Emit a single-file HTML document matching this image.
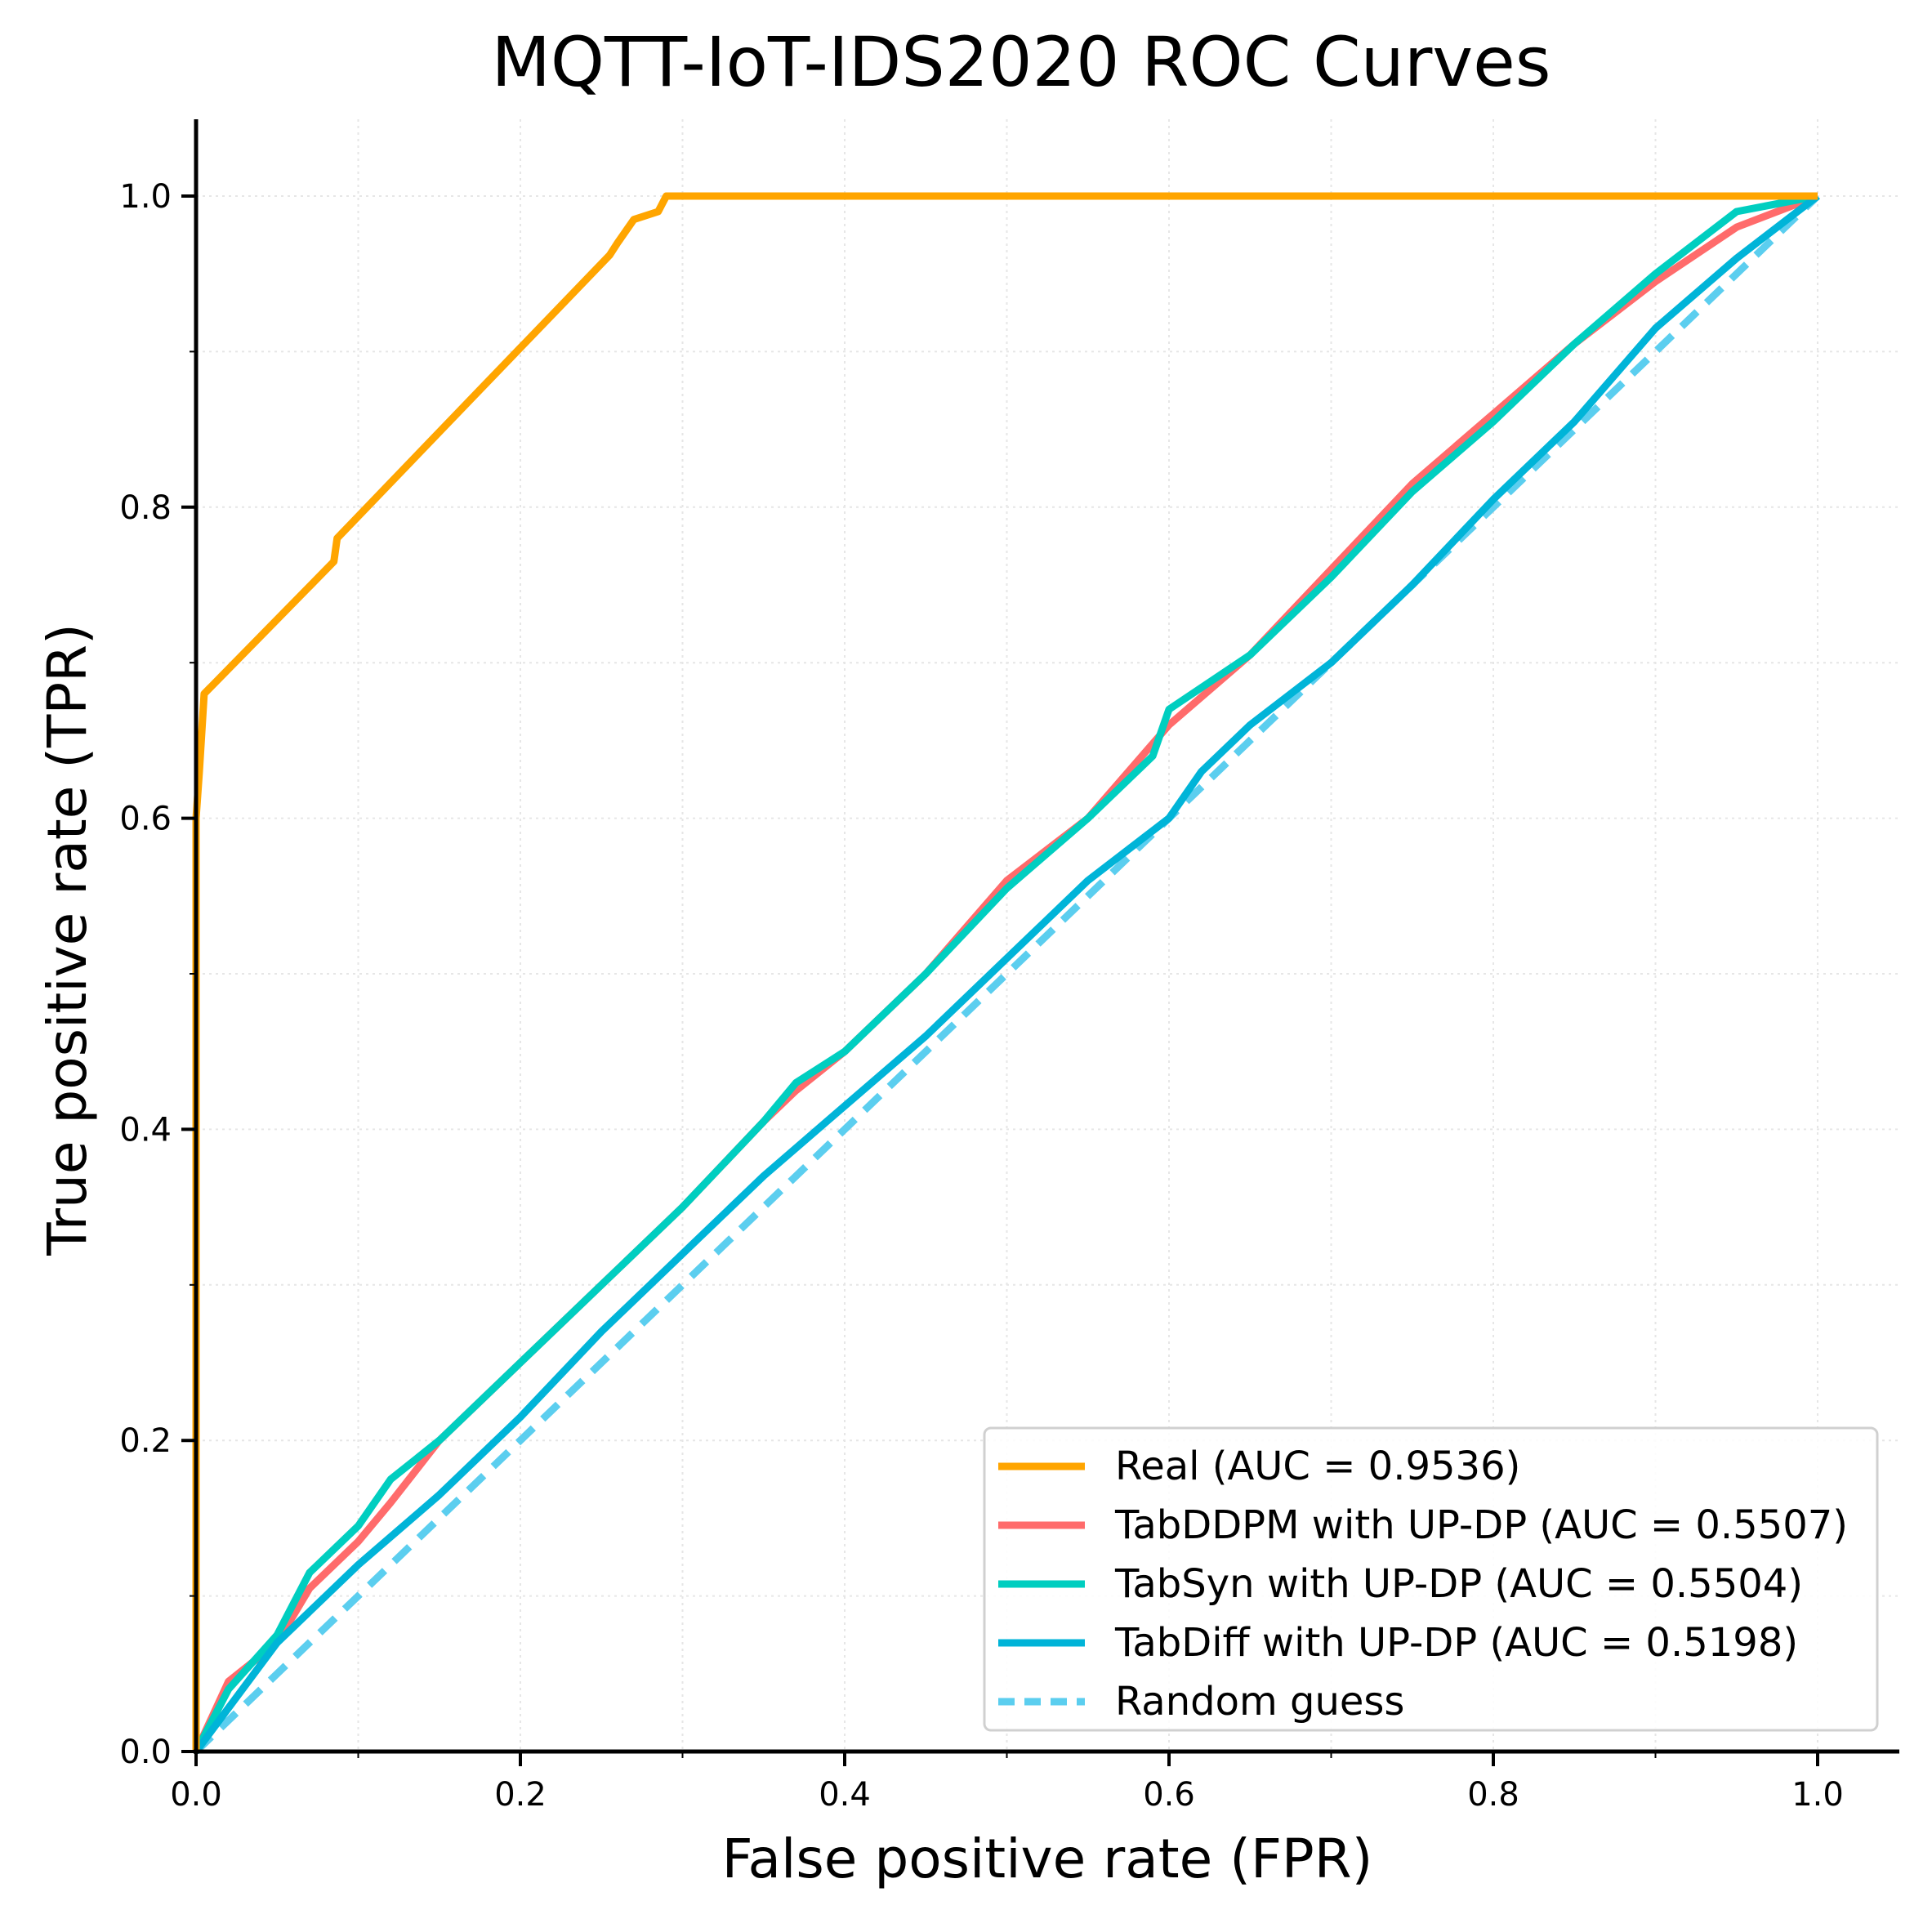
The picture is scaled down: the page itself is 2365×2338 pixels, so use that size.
<!DOCTYPE html>
<html><head><meta charset="utf-8"><style>
body{margin:0;background:#fff}
svg text{font-family:"DejaVu Sans","Liberation Sans",sans-serif;fill:#000}
</style></head><body>
<svg id="chart" width="2365" height="2333" xmlns="http://www.w3.org/2000/svg">
<text x="1250" y="105" font-size="84" text-anchor="middle">MQTT-IoT-IDS2020 ROC Curves</text>
<g id="grid"></g>
<g id="marks"></g>
<g id="axes"></g>
<text x="1282" y="2298" font-size="66" text-anchor="middle">False positive rate (FPR)</text>
<text transform="translate(105,1150) rotate(-90)" font-size="66" text-anchor="middle">True positive rate (TPR)</text>
<g id="legend"></g>
</svg>
<script>
const xTicks=[0,0.2,0.4,0.6,0.8,1.0];
const yTicks=[0,0.2,0.4,0.6,0.8,1.0];
const tickLabels=["0.0","0.2","0.4","0.6","0.8","1.0"];
const seriesNames=["Real (AUC = 0.9536)","TabDDPM with UP-DP (AUC = 0.5507)","TabSyn with UP-DP (AUC = 0.5504)","TabDiff with UP-DP (AUC = 0.5198)","Random guess"];
const realFpr=[0,0,0.002,0.005,0.085,0.087,0.17,0.255,0.26,0.27,0.285,0.29,0.31,1];
const realTpr=[0,0.6,0.63,0.68,0.765,0.78,0.87,0.962,0.97,0.985,0.99,1,1,1];
const ddpmFpr=[0,0.02,0.05,0.07,0.1,0.12,0.15,0.2,0.25,0.3,0.35,0.37,0.4,0.45,0.5,0.55,0.6,0.65,0.7,0.75,0.8,0.85,0.9,0.95,1];
const ddpmTpr=[0,0.045,0.07,0.105,0.135,0.16,0.2,0.25,0.3,0.35,0.405,0.425,0.45,0.5,0.56,0.6,0.66,0.705,0.76,0.815,0.86,0.905,0.945,0.98,1];
const synFpr=[0,0.02,0.05,0.07,0.1,0.12,0.15,0.2,0.25,0.3,0.35,0.37,0.4,0.45,0.5,0.55,0.59,0.6,0.65,0.7,0.75,0.8,0.85,0.9,0.95,1];
const synTpr=[0,0.04,0.075,0.115,0.145,0.175,0.2,0.25,0.3,0.35,0.405,0.43,0.45,0.5,0.555,0.6,0.64,0.67,0.705,0.755,0.81,0.855,0.905,0.95,0.99,1];
const diffFpr=[0,0.05,0.1,0.15,0.2,0.25,0.3,0.35,0.4,0.45,0.5,0.55,0.6,0.62,0.65,0.7,0.75,0.8,0.85,0.9,0.95,1];
const diffTpr=[0,0.07,0.12,0.165,0.215,0.27,0.32,0.37,0.415,0.46,0.51,0.56,0.6,0.63,0.66,0.7,0.75,0.805,0.855,0.915,0.96,1];
const randFpr=[0,1];
const randTpr=[0,1];
const colors=["#FFA500","#FF6B6B","#00CEC0","#00B4D8","#5BCEEF"];

const NS="http://www.w3.org/2000/svg";
const X0=240,X1=2225,Y0=2144,Y1=240;
const sx=v=>X0+v*(X1-X0), sy=v=>Y0-v*(Y0-Y1);
function mk(t,a,p){const e=document.createElementNS(NS,t);for(const k in a)e.setAttribute(k,a[k]);p.appendChild(e);return e;}
const grid=document.getElementById('grid'),axes=document.getElementById('axes'),marks=document.getElementById('marks'),leg=document.getElementById('legend');
for(let i=1;i<=10;i++){const v=i/10;
 const gv=mk('line',{x1:sx(v),x2:sx(v),y1:146,y2:Y0,stroke:'#e6e6e6','stroke-width':2,'stroke-dasharray':'3,5'},grid);
 
 const gh=mk('line',{x1:X0,x2:2325,y1:sy(v),y2:sy(v),stroke:'#e6e6e6','stroke-width':2,'stroke-dasharray':'3,5'},grid);
 
 if(i%2===1){mk('line',{x1:sx(v),x2:sx(v),y1:Y0,y2:Y0+8,stroke:'#000','stroke-width':2},axes);
  mk('line',{x1:X0,x2:X0-8,y1:sy(v),y2:sy(v),stroke:'#000','stroke-width':2},axes);}
}
function line(fx,fy,c,name,dash){const d=fx.map((v,i)=>(i?'L':'M')+sx(v).toFixed(1)+','+sy(fy[i]).toFixed(1)).join('');
 const p=mk('path',{d:d,fill:'none',stroke:c,'stroke-width':9,'stroke-linejoin':'round'},marks);
 if(dash)p.setAttribute('stroke-dasharray','26,16');
 }
line(randFpr,randTpr,colors[4],'random-guess-line',true);
line(ddpmFpr,ddpmTpr,colors[1],'tabddpm-curve');
line(synFpr,synTpr,colors[2],'tabsyn-curve');
line(diffFpr,diffTpr,colors[3],'tabdiff-curve');
line(realFpr,realTpr,colors[0],'real-curve');
mk('line',{x1:X0,x2:X0,y1:146,y2:Y0+3,stroke:'#000','stroke-width':5},axes);
mk('line',{x1:X0-3,x2:2325,y1:Y0,y2:Y0,stroke:'#000','stroke-width':5},axes);
xTicks.forEach((v,i)=>{mk('line',{x1:sx(v),x2:sx(v),y1:Y0,y2:Y0+18,stroke:'#000','stroke-width':4},axes);
 const t=mk('text',{x:sx(v),y:Y0+66,'font-size':40,'text-anchor':'middle'},axes);t.textContent=tickLabels[i];
 });
yTicks.forEach((v,i)=>{mk('line',{x1:X0,x2:X0-18,y1:sy(v),y2:sy(v),stroke:'#000','stroke-width':4},axes);
 const t=mk('text',{x:X0-30,y:sy(v)+14,'font-size':40,'text-anchor':'end'},axes);t.textContent=tickLabels[i];
 });
mk('rect',{x:1205,y:1748,width:1093,height:370,rx:8,fill:'#fff','fill-opacity':0.85,stroke:'#d0d0d0','stroke-width':3},leg);
seriesNames.forEach((n,i)=>{const y=1795+i*72;
 const l=mk('line',{x1:1222,x2:1328,y1:y,y2:y,stroke:colors[i],'stroke-width':9},leg);
 if(i===4)l.setAttribute('stroke-dasharray','20,12');
 const t=mk('text',{x:1365,y:y+16,'font-size':48},leg);t.textContent=n;
 });
</script>
</body></html>
